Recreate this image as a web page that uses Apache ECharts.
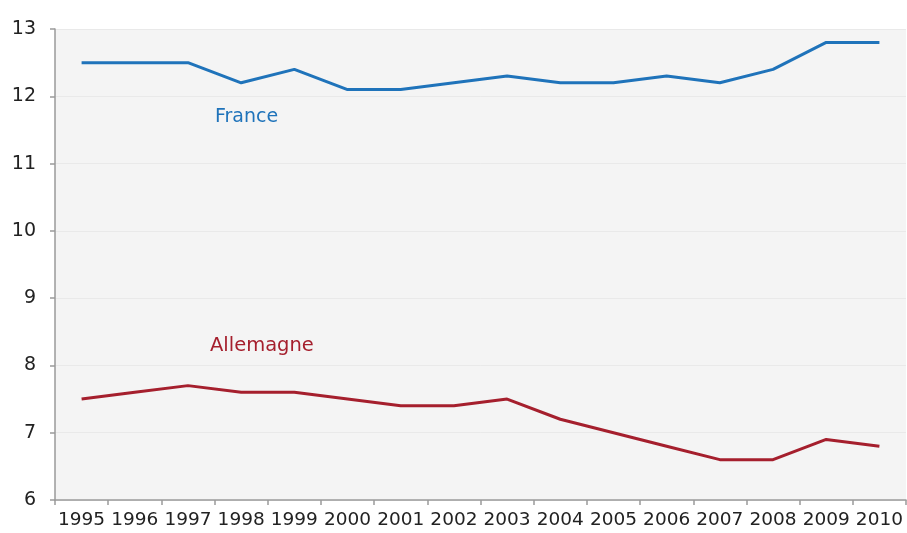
<!DOCTYPE html>
<html>
<head>
<meta charset="utf-8">
<script src="https://cdn.jsdelivr.net/npm/echarts@6/dist/echarts.min.js"></script>
<style>
html,body{margin:0;padding:0;background:#fff;}
#chart{width:907px;height:533px;}
</style>
</head>
<body>
<div id="chart"></div>
<script>
const years = ['1995','1996','1997','1998','1999','2000','2001','2002','2003','2004','2005','2006','2007','2008','2009','2010'];
const france = [12.5,12.5,12.5,12.2,12.4,12.1,12.1,12.2,12.3,12.2,12.2,12.3,12.2,12.4,12.8,12.8];
const allemagne = [7.5,7.6,7.7,7.6,7.6,7.5,7.4,7.4,7.5,7.2,7.0,6.8,6.6,6.6,6.9,6.8];
const seriesNames = ['France','Allemagne'];
const yTicks = [6,7,8,9,10,11,12,13];

const chart = echarts.init(document.getElementById('chart'), null, {renderer:'canvas'});
const FONT = 'DejaVu Sans';
chart.setOption({
  animation:false,
  backgroundColor:'#ffffff',
  grid:{left:55,right:1,top:29,bottom:33,show:true,backgroundColor:'#f4f4f4',borderWidth:0},
  xAxis:{
    type:'category',
    data:years,
    boundaryGap:true,
    axisLine:{lineStyle:{color:'#9a9a9a',width:1.5}},
    axisTick:{show:true,inside:false,length:5,alignWithLabel:false,lineStyle:{color:'#9a9a9a',width:1.5}},
    axisLabel:{interval:0,color:'#222',fontFamily:FONT,fontSize:18.5,margin:11},
    splitLine:{show:false}
  },
  yAxis:{
    type:'value',
    min:yTicks[0],max:yTicks[yTicks.length-1],interval:1,
    axisLine:{show:true,lineStyle:{color:'#9a9a9a',width:1.5}},
    axisTick:{show:true,length:5,lineStyle:{color:'#9a9a9a',width:1.5}},
    axisLabel:{color:'#222',fontFamily:FONT,fontSize:19,margin:19,verticalAlign:'middle',lineHeight:19,padding:[0,0,7,0]},
    splitLine:{show:true,lineStyle:{color:'#e9e9e9',width:1}}
  },
  series:[
    {name:seriesNames[0],type:'line',data:france,symbol:'none',
     lineStyle:{color:'#1f73ba',width:3},itemStyle:{color:'#1f73ba'}},
    {name:seriesNames[1],type:'line',data:allemagne,symbol:'none',
     lineStyle:{color:'#a51f2d',width:3},itemStyle:{color:'#a51f2d'}}
  ],
  graphic:[
    {type:'text',left:215,top:108,style:{text:seriesNames[0],fill:'#1f73ba',font:'19px "DejaVu Sans"'}},
    {type:'text',left:210,top:336,style:{text:seriesNames[1],fill:'#a51f2d',font:'19.5px "DejaVu Sans"'}}
  ]
});
</script>
</body>
</html>
